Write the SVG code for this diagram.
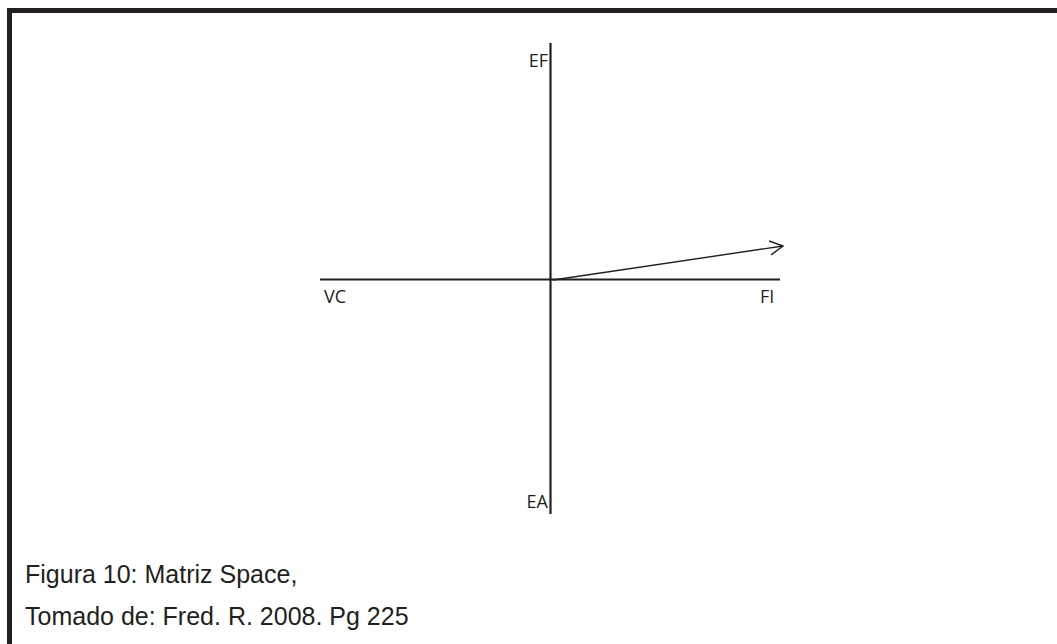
<svg xmlns="http://www.w3.org/2000/svg" width="1057" height="644" viewBox="0 0 1057 644">
<style>
.ax{stroke:#231f20;stroke-width:2.2;fill:none}
.lbl{font-family:"Open Sans","DejaVu Sans",sans-serif;font-size:18px;fill:#231f20}
.cap{font-family:"Liberation Sans",Arial,sans-serif;font-size:25px;fill:#231f20}
</style>
<defs>
<marker id="open" markerWidth="16" markerHeight="16" refX="14" refY="8" orient="auto" markerUnits="userSpaceOnUse">
<path d="M1,1 L14,8 L1,15" fill="none" stroke="#231f20" stroke-width="1.4"/>
</marker>
</defs>
<rect width="1057" height="644" fill="#fff"/>
<path d="M9.5,644 V10.5 H1057" fill="none" stroke="#231f20" stroke-width="5"/>
<g id="connectors">
<line class="ax" x1="550.5" y1="43" x2="550.5" y2="514"/>
<line class="ax" x1="320" y1="279.5" x2="780" y2="279.5"/>
<line x1="553" y1="280" x2="783" y2="246" stroke="#231f20" stroke-width="1.4" marker-end="url(#open)"/>
</g>
<g id="EF"><text class="lbl" x="548" y="67" text-anchor="end">EF</text></g>
<g id="VC"><text class="lbl" x="324" y="303">VC</text></g>
<g id="FI"><text class="lbl" x="760" y="303">FI</text></g>
<g id="EA"><text class="lbl" x="548" y="508" text-anchor="end">EA</text></g>
<g id="caption">
<text class="cap" x="25" y="583">Figura 10: Matriz Space,</text>
<text class="cap" x="25" y="625">Tomado de: Fred. R. 2008. Pg 225</text>
</g>
</svg>
